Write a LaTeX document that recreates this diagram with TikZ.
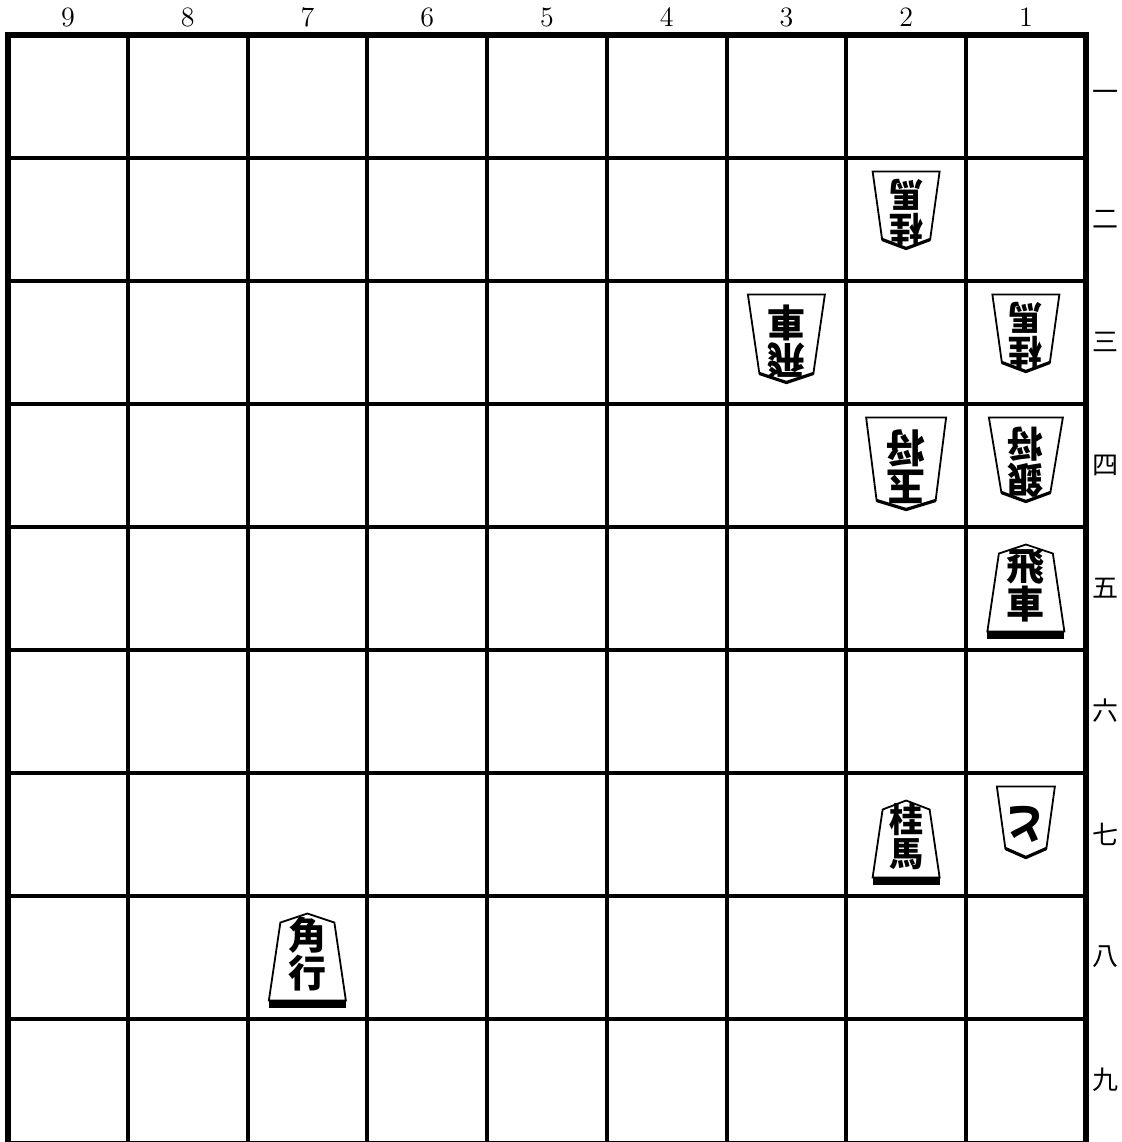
\documentclass[tikz,border=0pt]{standalone}
\usepackage{fontspec}
\newfontfamily\komafont{Noto Sans CJK JP}

\tikzset{
  grid line/.style={line width=2pt},
  frame line/.style={line width=3pt,line join=miter,line cap=rect},
  koma/.style={draw,line width=0.9pt,fill=white,line join=miter},
  koma edge/.style={line width=1.6pt,line join=miter},
  file label/.style={font=\fontsize{14}{14}\selectfont,inner sep=0pt},
  rank label/.style={font=\komafont\fontsize{13}{13}\selectfont,inner sep=0pt},
}

% piece of the side to move: name, file, rank, width, height, shoulder width, font size, text
\newcommand{\senteKoma}[8]{%
  \begin{scope}[shift={({67.875+(9-#2)*119.75},{34.5+#3*123-18})}]
    \fill (-#4/2,0) rectangle (#4/2,7);
    \draw[koma] (-#4/2,0) -- (-#6/2,{9-#5}) -- (0,-#5) -- (#6/2,{9-#5}) -- (#4/2,0) -- cycle;
    \node[inner sep=0pt,align=center,font={\komafont\bfseries\fontsize{#7}{#7}\selectfont}]
      (#1) at (0,{-0.53*#5}) {#8};
  \end{scope}}

% opponent's piece, turned round
\newcommand{\goteKoma}[8]{%
  \begin{scope}[shift={({67.875+(9-#2)*119.75},{34.5+(#3-1)*123+14})},rotate=180]
    \draw[koma] (-#4/2,0) -- (-#6/2,{9-#5}) -- (0,-#5) -- (#6/2,{9-#5}) -- (#4/2,0) -- cycle;
    \draw[koma edge] (-#6/2,{9-#5}) -- (0,-#5) -- (#6/2,{9-#5});
    \node[inner sep=0pt,align=center,rotate=180,font={\komafont\bfseries\fontsize{#7}{#7}\selectfont}]
      (#1) at (0,{-0.53*#5}) {#8};
  \end{scope}}

\begin{document}
\begin{tikzpicture}[x=0.5pt,y=-0.5pt]
  \useasboundingbox (0,0) rectangle (1122,1142);
  \fill[white] (0,0) rectangle (1122,1142);

  % board
  \foreach \i in {1,...,8}
    \draw[grid line] ({8+\i*119.75},34.5) -- ({8+\i*119.75},1146);
  \foreach \j in {1,...,8}
    \draw[grid line] (8,{34.5+\j*123}) -- (1085.8,{34.5+\j*123});
  \draw[frame line] (8,1143.5) -- (8,34.5) -- (1085.8,34.5) -- (1085.8,1143.5) -- cycle;

  % files and ranks
  \foreach \c in {1,...,9}
    \node[file label] (file\c) at ({67.875+(9-\c)*119.75},17.5) {\c};
  \foreach \r/\k in {1/一,2/二,3/三,4/四,5/五,6/六,7/七,8/八,9/九}
    \node[rank label] (rank\r) at (1105,{34.5+(\r-0.5)*123}) {\k};

  % pieces
  \goteKoma{k22}{2}{2}{67}{77}{48}{17}{桂\\馬}
  \goteKoma{k33}{3}{3}{77}{88}{54}{19}{飛\\車}
  \goteKoma{k13}{1}{3}{67}{77}{48}{17}{桂\\馬}
  \goteKoma{k24}{2}{4}{80}{92}{59}{19.5}{玉\\将}
  \goteKoma{k14}{1}{4}{74}{84}{49}{18}{銀\\将}
  \senteKoma{k15}{1}{5}{77}{87}{54}{19}{飛\\車}
  \senteKoma{k27}{2}{7}{67}{77}{47}{17}{桂\\馬}
  \goteKoma{k17}{1}{7}{58}{71}{41}{21}{と}
  \senteKoma{k78}{7}{8}{77}{87}{54}{19}{角\\行}
\end{tikzpicture}
\end{document}
